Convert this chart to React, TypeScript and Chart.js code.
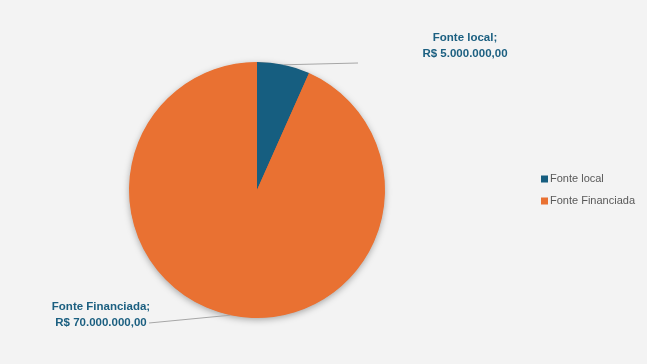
import React, { useEffect, useRef } from "react";
import { Chart, registerables } from "chart.js";

Chart.register(...registerables);

const categories = ["Fonte local", "Fonte Financiada"];
const values = [5000000, 70000000];
const colors = ["#165E80", "#E97132"];

const W = 647;
const H = 364;
const BG = "#F3F3F3";
const LABEL_COLOR = "#1B5F80";
const LEADER_COLOR = "#A6A6A6";
const LABEL_FONT = "bold 11.5px 'Liberation Sans', Arial, sans-serif";
const LEGEND_FONT = "11px 'Liberation Sans', Arial, sans-serif";

// label layout: text center and leader-line end
const labelLayout = [
  { cx: 465, y1: 38, y2: 54, lx: 358, ly: 63 },
  { cx: 101, y1: 307, y2: 323, lx: 149, ly: 323 },
];

function formatBRL(v: number): string {
  const fixed = v.toFixed(2);
  const [intPart, dec] = fixed.split(".");
  const withDots = intPart.replace(/\B(?=(\d{3})+(?!\d))/g, ".");
  return "R$ " + withDots + "," + dec;
}

const piePlugin = {
  id: "pieExtras",
  beforeDatasetsDraw(chart: any) {
    const meta = chart.getDatasetMeta(0);
    const arc = meta.data[0];
    if (!arc) return;
    const ctx = chart.ctx;
    ctx.save();
    ctx.shadowColor = "rgba(0,0,0,0.35)";
    ctx.shadowBlur = 7;
    ctx.shadowOffsetX = 0;
    ctx.shadowOffsetY = 2;
    ctx.beginPath();
    ctx.arc(arc.x, arc.y, arc.outerRadius - 0.5, 0, Math.PI * 2);
    ctx.fillStyle = colors[1];
    ctx.fill();
    ctx.restore();
  },
  afterDatasetsDraw(chart: any) {
    const meta = chart.getDatasetMeta(0);
    const ctx = chart.ctx;
    ctx.save();
    meta.data.forEach((arc: any, i: number) => {
      const mid = (arc.startAngle + arc.endAngle) / 2;
      const px = arc.x + Math.cos(mid) * arc.outerRadius;
      const py = arc.y + Math.sin(mid) * arc.outerRadius;
      const L = labelLayout[i];
      ctx.strokeStyle = LEADER_COLOR;
      ctx.lineWidth = 1;
      ctx.beginPath();
      ctx.moveTo(px, py);
      ctx.lineTo(L.lx, L.ly);
      ctx.stroke();
      ctx.fillStyle = LABEL_COLOR;
      ctx.font = LABEL_FONT;
      ctx.textAlign = "center";
      ctx.textBaseline = "middle";
      ctx.fillText(categories[i] + ";", L.cx, L.y1);
      ctx.fillText(formatBRL(values[i]), L.cx, L.y2);
    });
    // legend
    ctx.font = LEGEND_FONT;
    ctx.textAlign = "left";
    ctx.textBaseline = "middle";
    categories.forEach((c, i) => {
      const y = 179 + i * 22;
      ctx.fillStyle = colors[i];
      ctx.fillRect(541, y - 3.5, 7, 7);
      ctx.fillStyle = "#595959";
      ctx.fillText(c, 550, y);
    });
    ctx.restore();
  },
};

export default function App() {
  const ref = useRef<HTMLCanvasElement | null>(null);
  useEffect(() => {
    document.body.style.margin = "0";
    const chart = new Chart(ref.current as HTMLCanvasElement, {
      type: "pie",
      data: {
        labels: categories,
        datasets: [
          {
            data: values,
            backgroundColor: colors,
            borderWidth: 0,
          },
        ],
      },
      options: {
        responsive: false,
        animation: false,
        layout: { padding: { left: 129, right: 262, top: 62, bottom: 46 } },
        plugins: {
          legend: { display: false },
          tooltip: { enabled: false },
        },
      },
      plugins: [piePlugin],
    });
    return () => chart.destroy();
  }, []);
  return (
    <div style={{ position: "fixed", left: 0, top: 0, width: W, height: H, background: BG }}>
      <canvas ref={ref} width={W} height={H} style={{ width: W, height: H }} />
    </div>
  );
}
